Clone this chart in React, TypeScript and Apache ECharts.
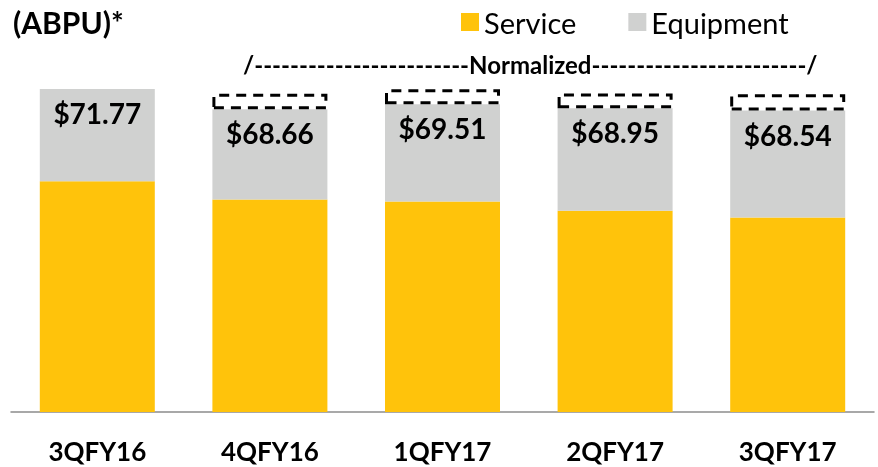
import React, { useEffect, useRef } from "react";
import * as echarts from "echarts";

const categories = ["3QFY16", "4QFY16", "1QFY17", "2QFY17", "3QFY17"];
const serviceValues = [51.3, 47.2, 46.8, 44.7, 43.2];
const equipmentValues = [20.5, 20.1, 21.6, 22.8, 23.8];
const normalizedGap: (number | string)[] = ["-", 3.4, 3.3, 3.3, 3.6];
const totalLabels = ["$71.77", "$68.66", "$69.51", "$68.95", "$68.54"];

const FONT = "Lato, 'Open Sans', sans-serif";

export default function App() {
  const ref = useRef<HTMLDivElement>(null);
  useEffect(() => {
    if (!ref.current) return;
    const chart = echarts.init(ref.current, null, { renderer: "svg" });
    const dashes = "-".repeat(24);
    chart.setOption({
      animation: false,
      textStyle: { fontFamily: FONT },
      title: {
        text: "(ABPU)*",
        left: 8,
        top: 2,
        textStyle: { fontFamily: FONT, fontWeight: "bold", fontSize: 30, color: "#000" },
      },
      legend: {
        data: ["Service", "Equipment"],
        left: 456,
        top: 2,
        icon: "rect",
        itemWidth: 18,
        itemHeight: 18,
        itemGap: 52,
        itemTextGap: 8,
        textStyle: { fontFamily: FONT, fontSize: 29, color: "#000", lineHeight: 30 },
      },
      grid: { left: 11, right: 4, top: 52, bottom: 55 },
      xAxis: {
        type: "category",
        data: categories,
        axisLine: { lineStyle: { color: "#8c8c8c", width: 1.5 } },
        axisTick: { length: 10, lineStyle: { color: "#8c8c8c", width: 1.5 } },
        axisLabel: {
          margin: 27,
          fontFamily: FONT,
          fontWeight: "bold",
          fontSize: 26,
          lineHeight: 24,
          color: "#000",
        },
      },
      yAxis: { type: "value", min: 0, max: 80, show: false, splitLine: { show: false } },
      graphic: [
        {
          type: "text",
          left: 243,
          top: 52,
          style: {
            text: "/" + dashes + "Normalized" + dashes + "/",
            font: `bold 24px ${FONT}`,
            fill: "#000",
          },
        },
      ],
      series: [
        {
          name: "Service",
          type: "bar",
          stack: "a",
          barWidth: 115,
          data: serviceValues,
          itemStyle: { color: "#FFC30B" },
          silent: true,
        },
        {
          name: "Equipment",
          type: "bar",
          stack: "a",
          barWidth: 115,
          data: equipmentValues,
          itemStyle: { color: "#D0D1D0" },
          silent: true,
          label: {
            show: true,
            position: "insideTop",
            distance: 10,
            formatter: (p: any) => totalLabels[p.dataIndex],
            fontFamily: FONT,
            fontWeight: "bold",
            fontSize: 28,
            lineHeight: 28,
            color: "#000",
          },
        },
        {
          name: "Normalized",
          type: "bar",
          stack: "a",
          barWidth: 115,
          data: normalizedGap,
          silent: true,
          itemStyle: {
            color: "rgba(0,0,0,0)",
            borderColor: "#000",
            borderWidth: 3,
            borderType: [10, 7],
          },
        },
      ],
    });
    return () => chart.dispose();
  }, []);
  return (
    <div
      ref={ref}
      style={{ position: "fixed", left: 0, top: 0, width: 878, height: 467 }}
    />
  );
}
